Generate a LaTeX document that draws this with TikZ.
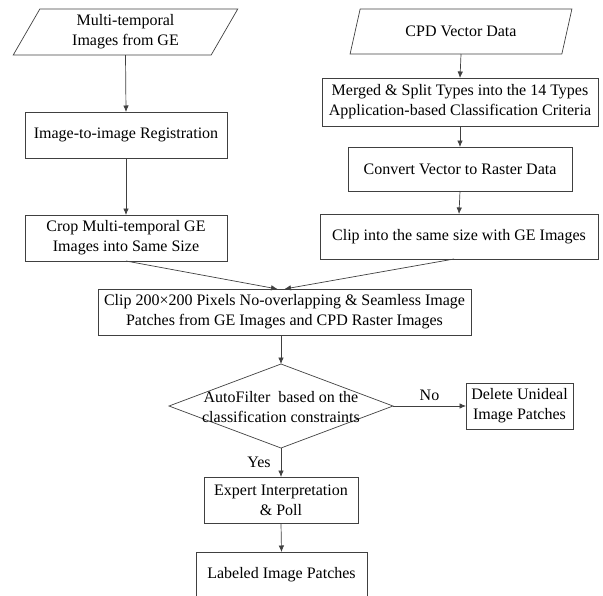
\documentclass[tikz,border=0pt]{standalone}
\usepackage{fontspec}
\setmainfont{Liberation Serif}
\usetikzlibrary{shapes.geometric,arrows.meta,calc}
\tikzset{
  base/.style={draw=black!75, line width=0.7pt, text=black, align=center, inner sep=0pt, outer sep=0pt,
    font=\fontsize{16}{20}\selectfont},
  box/.style={base, rectangle, minimum width=#1, minimum height=46pt},
  para/.style={base, trapezium, trapezium stretches=true, minimum height=46pt},
  arr/.style={draw=black!75, line width=0.7pt, -{Latex[length=6.5pt,width=5.5pt]}},
  lbl/.style={font=\fontsize{16}{20}\selectfont, inner sep=2pt}
}
\begin{document}
\begin{tikzpicture}[x=1pt,y=-1pt]
\useasboundingbox (0,0) rectangle (603,595);
\clip (0,0) rectangle (603,595);
\node[para, trapezium left angle=64.4, trapezium right angle=115.6, minimum width=225pt] (ge) at (125.5,32) {Multi-temporal\\Images from GE};
\node[box=202pt] (reg) at (126,135) {Image-to-image Registration};
\node[box=202pt] (crop) at (126,238) {Crop Multi-temporal GE\\Images into Same Size};
\node[para, trapezium left angle=62.9, trapezium right angle=117.1, minimum width=222pt, minimum height=45pt] (cpd) at (461,31.5) {CPD Vector Data};
\node[box=276pt, minimum height=48pt] (merge) at (460,102) {Merged \& Split Types into the 14 Types\\Application-based Classification Criteria};
\node[box=224pt, minimum height=44pt] (conv) at (460,169) {Convert Vector to Raster Data};
\node[box=278pt, minimum height=45pt] (clipge) at (459,236.5) {Clip into the same size with GE Images};
\node[box=373pt] (patch) at (284.5,312) {Clip 200\texttimes200 Pixels No-overlapping \& Seamless Image\\Patches from GE Images and CPD Raster Images};
\node[base, diamond, minimum width=224pt, minimum height=84pt] (filt) at (281,406) {};
\node[lbl, align=center, inner sep=0pt] (filttext) at (281,407) {AutoFilter\ \ based on the\\classification constraints};
\node[box=107pt] (del) at (519.5,406) {Delete Unideal\\Image Patches};
\node[box=154pt] (exp) at (281,500) {Expert Interpretation\\\& Poll};
\node[box=171pt] (lab) at (281.5,575) {Labeled Image Patches};
\draw[arr] (ge.south) -- (reg.north);
\draw[arr] (reg.south) -- (crop.north);
\draw[arr] (cpd.south) -- (merge.north);
\draw[arr] (merge.south) -- (conv.north);
\draw[arr] (conv.south) -- (clipge.north);
\draw[arr] (crop.south) -- ($(patch.north)+(-7,0)$);
\draw[arr] ($(clipge.south)+(-5,0)$) -- ($(patch.north)+(0,0)$);
\draw[arr] ($(patch.south)+(-3.5,0)$) -- (filt.north);
\draw[arr] (filt.east) -- node[lbl, above=3pt] {No} (del.west);
\draw[arr] (filt.south) -- node[lbl, left=8pt, pos=0.5] {Yes} (exp.north);
\draw[arr] (exp.south) -- (lab.north);
\end{tikzpicture}
\end{document}
